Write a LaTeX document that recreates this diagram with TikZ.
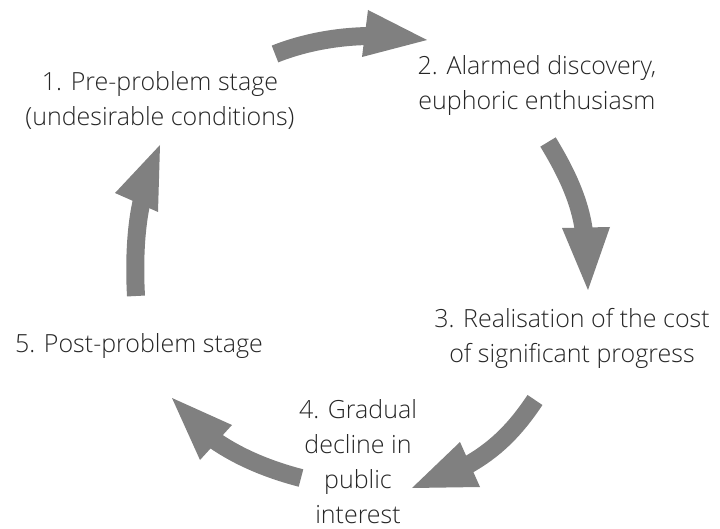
\documentclass[tikz,border=0pt]{standalone}
\usepackage{fontspec}
\setmainfont{Open Sans Light}
\begin{document}
\begin{tikzpicture}[x=1pt,y=-1pt,
  lbl/.style={align=center, text=black!85, font=\fontsize{25}{35}\selectfont, inner sep=0pt},
  shaft/.style={draw=arrowgray, line width=18pt},
  head/.style={fill=arrowgray}]
\definecolor{arrowgray}{RGB}{128,128,128}
\useasboundingbox (0,0) rectangle (720,529);
% labels
\node[lbl] (s1) at (160,100) {1. Pre-problem stage\\(undesirable conditions)};
\node[lbl] (s2) at (537,86) {2. Alarmed discovery,\\euphoric enthusiasm};
\node[lbl] (s3) at (572,338) {3. Realisation of the cost\\of significant progress};
\node[lbl] (s4) at (358,462) {4. Gradual\\decline in\\public\\interest};
\node[lbl] (s5) at (139,346) {5. Post-problem stage};
% arrow 1
\coordinate (a1t) at (275,54); \coordinate (a1b) at (372,36);
\draw[shaft] (a1t) .. controls (305,42) and (340,36) .. (a1b);
\fill[head] (368,10) -- (427,40) -- (362,57) -- cycle;
% arrow 2
\coordinate (a2t) at (548,142); \coordinate (a2b) at (584,232);
\draw[shaft] (a2t) .. controls (565,170) and (580,200) .. (a2b);
\fill[head] (562,228) -- (588,290) -- (610,227) -- cycle;
% arrow 3
\coordinate (a3t) at (535,400); \coordinate (a3b) at (466,466);
\draw[shaft] (a3t) .. controls (515,430) and (495,450) .. (a3b);
\fill[head] (460,442) -- (412,488) -- (480,487) -- cycle;
% arrow 4
\coordinate (a4t) at (301,478); \coordinate (a4b) at (214,440);
\draw[shaft] (a4t) .. controls (270,470) and (240,458) .. (a4b);
\fill[head] (232,425) -- (172,398) -- (200,460) -- cycle;
% arrow 5
\coordinate (a5t) at (136,296); \coordinate (a5b) at (142,200);
\draw[shaft] (a5t) .. controls (134,260) and (136,225) .. (a5b);
\fill[head] (115,193) -- (160,145) -- (158,212) -- cycle;
\end{tikzpicture}
\end{document}
